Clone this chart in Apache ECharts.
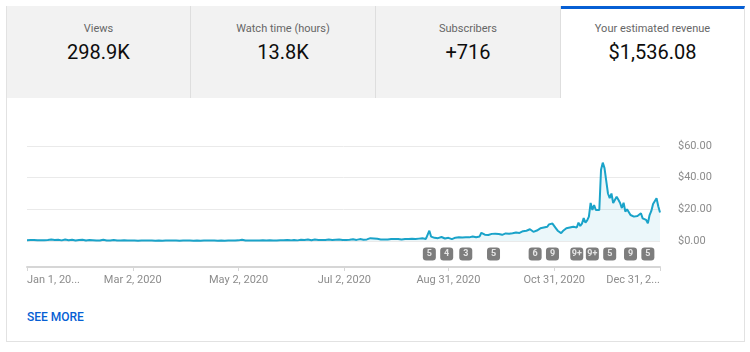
<!DOCTYPE html>
<html><head><meta charset="utf-8">
<script src="https://cdn.jsdelivr.net/npm/echarts@6/dist/echarts.min.js"></script>
<style>
body{margin:0;width:750px;height:352px;background:#fff;font-family:Roboto,sans-serif;overflow:hidden;position:relative}
#card{position:absolute;left:6px;top:6px;width:739px;height:336px;border:1px solid #e2e2e2;box-sizing:border-box}
.tab{position:absolute;top:6px;height:92px;background:#f2f2f2;text-align:center;box-sizing:border-box;border-right:1px solid #dedede}
.tab.sel{background:#fff;border-top:3px solid #065fd4;border-right:1px solid #e2e2e2}
.t{position:absolute;left:0;right:0;top:16px;font-size:11px;line-height:14px;color:#666}
.v{position:absolute;left:0;right:0;top:34px;font-size:20px;line-height:24px;color:#0d0d0d}
.sel .t{top:13px}.sel .v{top:31px}
#more{position:absolute;left:27px;top:310px;font-size:12px;line-height:14px;font-weight:500;color:#065fd4}
#chart{position:absolute;left:0;top:0;width:750px;height:352px}
</style></head>
<body>
<div id="card"></div>
<div class="tab" style="left:7px;width:184px"><div class="t">Views</div><div class="v">298.9K</div></div>
<div class="tab" style="left:191px;width:185px"><div class="t">Watch time (hours)</div><div class="v">13.8K</div></div>
<div class="tab" style="left:376px;width:185px"><div class="t">Subscribers</div><div class="v">+716</div></div>
<div class="tab sel" style="left:561px;width:184px"><div class="t">Your estimated revenue</div><div class="v">$1,536.08</div></div>
<div id="more">SEE MORE</div>
<div id="chart"></div>
<script>
// Daily estimated revenue (USD), 2020
const jan = [0.5,0.8,0.6,0.4,0.7,0.9,0.5,0.6,0.4,0.3,0.5,0.8,0.6,0.7,0.9,1.0,0.7,0.6,0.8,0.5,0.4,0.6,0.9,0.7,0.5,0.6,0.8,0.4,0.3,0.5,0.6];
const feb = [0.5,0.8,0.4,0.3,0.4,0.6,0.7,0.5,0.4,0.3,0.4,0.3,0.6,0.8,0.5,0.3,0.4,0.3,0.5,0.7,0.4,0.3,0.4,0.3,0.3,0.4,0.3,0.3,0.3];
const mar = [0.3,0.2,0.3,0.3,0.2,0.3,0.3,0.2,0.3,0.3,0.3,0.2,0.3,0.3,0.2,0.3,0.3,0.3,0.2,0.3,0.3,0.2,0.3,0.3,0.3,0.2,0.3,0.3,0.2,0.3,0.3];
const apr = [0.3,0.3,0.2,0.3,0.3,0.2,0.3,0.3,0.3,0.2,0.3,0.3,0.2,0.3,0.3,0.3,0.2,0.3,0.3,0.2,0.3,0.3,0.3,0.2,0.3,0.3,0.2,0.3,0.3,0.3];
const may = [0.3,0.4,0.3,0.8,0.3,0.3,0.4,0.3,0.3,0.3,0.4,0.3,0.3,0.3,0.3,0.4,0.3,0.3,0.7,0.4,0.3,0.3,0.4,0.3,0.5,0.4,0.3,0.4,0.3,0.6,0.4];
const jun = [0.4,0.5,0.7,0.5,0.4,0.6,0.8,0.5,0.6,0.7,0.9,0.6,0.5,0.7,0.9,0.6,0.7,0.8,0.6,1.0,0.7,0.8,0.9,0.7,0.6,1.0,0.8,0.7,0.9,1.0];
const jul = [0.6,0.8,0.7,1.0,0.8,0.9,1.1,0.8,0.7,1.0,1.2,0.9,0.8,1.1,1.0,1.3,1.8,2.7,1.6,2.2,1.4,1.2,1.0,1.1,0.9,1.2,1.0,1.1,1.3,1.0,1.2];
const aug = [1.1,1.3,1.2,1.0,1.4,1.2,1.5,1.3,1.1,1.4,1.6,1.3,1.2,1.5,1.4,1.7,1.5,1.3,1.6,6.5,2.8,2.2,2.0,2.4,1.8,2.1,2.5,1.9,1.6,2.2,2.0];
const sep = [1.4,1.2,1.6,2.1,1.8,2.3,2.0,2.2,1.9,2.4,2.6,2.3,2.5,2.8,2.6,2.4,2.7,2.9,5.2,4.4,4.0,4.3,3.8,4.1,4.5,3.9,4.6,5.3,4.4,3.6];
const oct = [3.9,4.3,4.8,4.2,4.6,5.2,4.9,4.5,5.4,5.8,5.1,5.6,6.2,5.7,6.5,6.0,7.4,6.3,5.8,7.0,6.6,7.6,8,9,8.5,9.5,9,10.5,10,11,10];
const nov = [8,6.5,5.5,5,6.3,7,8,7.5,8.5,8,9,9.5,8.5,11.6,9.5,11,14.5,11.6,13,15.4,24,19.6,22.7,19.6,20,19.6,45,49.5,46,38];
const dec = [30,27,30,24,25,28,26,24,20.8,24.2,18.6,20,20.8,16.4,17,15.4,14.3,15.8,16.5,17.5,14.3,15.4,13.3,11.2,16.4,19,23.4,23,27,22,18];

// X-axis tick labels (day index in 2020 -> label)
const tickIndex = [0, 61, 122, 183, 243, 304, 365];
const tickLabels = ['Jan 1, 20...', 'Mar 2, 2020', 'May 2, 2020', 'Jul 2, 2020', 'Aug 31, 2020', 'Oct 31, 2020', 'Dec 31, 2...'];

// Annotation badges (day index, text)
const badgeDays = [232, 242, 253, 269, 293, 303, 317, 326, 336, 348, 358];
const badgeText = ['5', '4', '3', '5', '6', '9', '9+', '9+', '5', '9', '5'];

// Y-axis ticks
const yTicks = [0, 20, 40, 60];

const revenue = [].concat(jan, feb, mar, apr, may, jun, jul, aug, sep, oct, nov, dec);
const MONTHS = ['Jan','Feb','Mar','Apr','May','Jun','Jul','Aug','Sep','Oct','Nov','Dec'];
const dates = revenue.map((_, i) => {
  const d = new Date(Date.UTC(2020, 0, 1 + i));
  return MONTHS[d.getUTCMonth()] + ' ' + d.getUTCDate() + ', ' + d.getUTCFullYear();
});
const isTick = (i) => tickIndex.indexOf(i) >= 0;

const chart = echarts.init(document.getElementById('chart'), null, {renderer: 'canvas'});
chart.setOption({
  animation: false,
  backgroundColor: 'transparent',
  textStyle: {fontFamily: 'Roboto'},
  grid: [
    {left: 27, right: 90, top: 146, height: 95},
    {left: 27, right: 90, top: 241, height: 26}
  ],
  xAxis: [
    {type: 'category', gridIndex: 0, data: dates, boundaryGap: false, show: false},
    {type: 'category', gridIndex: 1, data: dates, boundaryGap: false,
      axisLine: {lineStyle: {color: '#d6d6d6', width: 2}},
      axisTick: {interval: (i) => isTick(i), length: 4, lineStyle: {color: '#d6d6d6'}},
      axisLabel: {interval: (i) => isTick(i), formatter: (v, i) => tickLabels[tickIndex.indexOf(i)] || '',
        color: '#8c8c8c', fontSize: 11, margin: 8, alignMinLabel: 'left', alignMaxLabel: 'right'},
      splitLine: {show: false}}
  ],
  yAxis: [
    {type: 'value', gridIndex: 0, position: 'right', min: yTicks[0], max: yTicks[yTicks.length - 1], interval: 20,
      axisLine: {show: false}, axisTick: {show: false},
      splitLine: {lineStyle: {color: '#eaeaea', width: 1}},
      axisLabel: {formatter: (v) => '$' + v.toFixed(2), color: '#8c8c8c', fontSize: 11, margin: 18}},
    {type: 'value', gridIndex: 1, min: 0, max: 1, show: false}
  ],
  series: [
    {type: 'line', xAxisIndex: 0, yAxisIndex: 0, data: revenue, showSymbol: false, symbol: 'none',
      lineStyle: {color: '#1aa3c9', width: 2}, itemStyle: {color: '#1aa3c9'},
      areaStyle: {color: 'rgba(26,163,201,0.12)'}, silent: true},
    {type: 'scatter', xAxisIndex: 1, yAxisIndex: 1,
      data: badgeDays.map((d, k) => ({value: [d, 0.5], name: badgeText[k]})),
      symbol: 'roundRect', symbolSize: [13, 13], itemStyle: {color: '#5c5c5c'},
      label: {show: true, position: 'inside', formatter: (p) => p.name, color: '#fff', fontSize: 9, fontWeight: 'bold'},
      silent: true}
  ]
});
</script>
</body></html>
